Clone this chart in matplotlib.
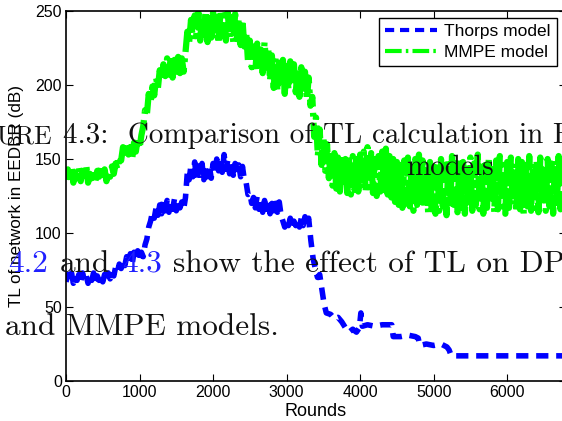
import matplotlib
matplotlib.use("Agg")
import matplotlib.pyplot as plt

# Thorps model (blue, dashed)
thorps_x = list(range(0, 3301, 25)) + [
    3330, 3360, 3390, 3420, 3450, 3480, 3510, 3540, 3600, 3650, 3700, 3750,
    3800, 3850, 3900, 3950, 3990, 4010, 4030, 4100, 4200, 4300, 4400, 4430,
    4450, 4550, 4650, 4750, 4790, 4810, 4900, 5000, 5100, 5180, 5210, 5240, 6800]
thorps_y = [
    67, 72, 68, 73, 66, 71, 68, 72, 67, 73, 68, 71, 66, 72, 68, 73, 67, 71, 68, 72,
    67, 72, 68, 73, 69, 74, 71, 77, 74, 79, 76, 81, 78, 84, 80, 86, 79, 87, 82, 88,
    81, 87, 84, 92, 96, 104, 108, 114, 110, 117, 112, 119, 113, 121, 115, 122, 114, 121, 116, 123,
    115, 122, 117, 121, 116, 124, 141, 136, 146, 138, 148, 137, 149, 139, 147, 136, 146, 138, 145, 137,
    147, 140, 150, 142, 151, 141, 153, 143, 149, 140, 148, 139, 147, 141, 146, 138, 145, 136, 134, 126,
    127, 120, 124, 117, 125, 116, 123, 114, 122, 116, 121, 113, 120, 115, 122, 114, 121, 112, 108, 104,
    109, 105, 110, 104, 108, 105, 109, 104, 110, 105, 111, 106, 110,
    95, 83, 76, 70, 72, 62, 52, 46, 45, 42, 43, 40,
    36, 33, 35, 33, 36, 46, 37, 38, 37, 38, 38, 38,
    30, 30, 31, 30, 29, 24, 25, 24, 25, 23, 21, 17, 17]

# MMPE model (green, dash-dot)
mmpe_x = list(range(0, 6776, 25))
mmpe_y = [
    136, 143, 138, 145, 134, 141, 137, 144, 135, 142, 139, 146, 134, 140, 137, 143, 135, 142, 138, 144,
    136, 143, 135, 141, 138, 145, 140, 147, 143, 152, 149, 158, 151, 160, 153, 158, 150, 161, 155, 164,
    157, 166, 172, 183, 180, 194, 188, 199, 193, 205, 198, 210, 203, 214, 206, 218, 207, 219, 205, 217,
    206, 219, 208, 218, 209, 222, 236, 229, 244, 231, 247, 233, 249, 230, 246, 234, 250, 229, 245, 232,
    249, 231, 246, 228, 250, 233, 247, 230, 249, 232, 246, 229, 248, 231, 245, 227, 244, 226, 236, 216,
    230, 212, 226, 209, 228, 213, 224, 208, 229, 212, 225, 203, 220, 198, 218, 196, 215, 199, 217, 194,
    213, 197, 216, 200, 214, 195, 211, 192, 212, 194, 209, 190, 205, 186, 192, 165, 178, 152, 170, 146,
    165, 142, 160, 137, 156, 132, 154, 130, 151, 128, 153, 131, 150, 127, 149, 126, 152, 129, 150, 128,
    153, 130, 155, 128, 158, 131, 154, 127, 150, 125, 152, 128, 155, 129, 157, 126, 152, 124, 150, 121,
    148, 119, 146, 117, 149, 120, 151, 118, 147, 115, 150, 119, 153, 121, 149, 117, 146, 114, 148, 116,
    145, 113, 147, 115, 150, 118, 146, 112, 149, 116, 152, 119, 147, 114, 150, 117, 148, 113, 146, 118,
    151, 115, 147, 119, 153, 116, 148, 113, 146, 117, 150, 120, 147, 114, 149, 116, 152, 118, 146, 113,
    148, 117, 151, 119, 147, 114, 150, 116, 148, 113, 146, 118, 152, 115, 147, 117, 149, 114, 151, 119,
    146, 115, 150, 118, 147, 113, 149, 117, 152, 116, 148, 120]

xticks = [0, 1000, 2000, 3000, 4000, 5000, 6000]
yticks = [0, 50, 100, 150, 200, 250]

W, H = 562, 421


def fx(px):
    return px / W


def fy(py):
    return 1 - py / H


fig = plt.figure(figsize=(W / 100, H / 100), dpi=100)
ax = fig.add_axes([fx(66), fy(381), fx(566) - fx(66), fy(11) - fy(381)])

ax.plot(thorps_x, thorps_y, color="#0000ff", lw=4, ls=(0, (2.2, 1.4)),
        label="Thorps model")
ax.plot(mmpe_x, mmpe_y, color="#00ff00", lw=4.5, ls=(0, (4, 1, 0.6, 1)),
        label="MMPE model")

ax.set_xlim(0, 6800)
ax.set_ylim(0, 250)
ax.set_xticks(xticks)
ax.set_yticks(yticks)
ax.tick_params(direction="in", length=5, width=0.8, top=True, right=True,
               labelsize=11.5, pad=3)
for lab in ax.get_xticklabels() + ax.get_yticklabels():
    lab.set_family("Liberation Sans")
for sp in ax.spines.values():
    sp.set_linewidth(1.2)

ax.set_xlabel("Rounds", fontsize=13, family="Liberation Sans")
ax.xaxis.set_label_coords(0.5, -(411 - 381) / 370)
ax.xaxis.label.set_va("center")
ax.set_ylabel("TL of network in EEDBR (dB)", fontsize=12.3,
              family="Liberation Sans")
ax.yaxis.set_label_coords(-(66 - 17) / 500, 0.5)
ax.yaxis.label.set_va("center")

leg = ax.legend(loc="upper right", bbox_to_anchor=(fx(557), fy(18)),
                bbox_transform=fig.transFigure, borderaxespad=0,
                fancybox=False, framealpha=1, edgecolor="black",
                prop={"family": "Liberation Sans", "size": 12.5},
                handlelength=3.0, borderpad=0.35, labelspacing=0.3,
                handletextpad=0.4)
leg.get_frame().set_linewidth(1.0)
for h in leg.get_lines():
    h.set_linewidth(3)

# overlapping thesis text
serif = "cmr10"
ink = "#111111"
link = "#2020ff"
fig.text(fx(52), fy(143), "URE", family=serif, fontsize=18.5, ha="right",
         va="baseline", color=ink, zorder=10)
fig.text(fx(63), fy(143), "4.3:  Comparison of TL calculation in E",
         family=serif, fontsize=21, ha="left", va="baseline",
         color=ink, zorder=10)
fig.text(fx(450), fy(175), "models", family=serif, fontsize=21, ha="center",
         va="baseline", color=ink, zorder=10)
fig.text(fx(8), fy(272), "4.2", family=serif, fontsize=22.5, ha="left",
         va="baseline", color=link, zorder=10)
fig.text(fx(60), fy(272), "and", family=serif, fontsize=22.5, ha="left",
         va="baseline", color=ink, zorder=10)
fig.text(fx(122), fy(272), "4.3", family=serif, fontsize=22.5, ha="left",
         va="baseline", color=link, zorder=10)
fig.text(fx(173), fy(272), "show the effect of TL on DP", family=serif,
         fontsize=22.5, ha="left", va="baseline", color=ink, zorder=10)
fig.text(fx(5), fy(335), "and MMPE models.", family=serif, fontsize=22.5,
         ha="left", va="baseline", color=ink, zorder=10)

fig.savefig("out.png", dpi=100)
